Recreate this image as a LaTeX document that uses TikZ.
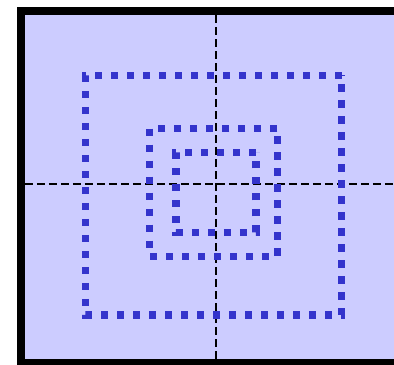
\documentclass[tikz,border=0pt]{standalone}
\usepackage{xcolor}
\usepackage{tikz}
\definecolor{panelfill}{HTML}{CCCCFF}
\definecolor{loopblue}{HTML}{3333CC}

\begin{document}
\begin{tikzpicture}[x=0.75pt, y=-0.75pt,
    loopline/.style={loopblue, line width=5.3pt, line cap=butt,
                     dash pattern=on 5.3pt off 6.7pt},
    axisline/.style={black, line width=1.5pt, dash pattern=on 6pt off 3pt}]
    \useasboundingbox (0,0) rectangle (394,365);
    \clip (0,0) rectangle (394,365);
    % frame
    \draw[line width=5.8pt, fill=panelfill] (21.2,11.2) rectangle (430,363);
    % axes
    \coordinate (top) at (216,15);
    \coordinate (bottom) at (216,359);
    \coordinate (left) at (25,183.7);
    \coordinate (right) at (394,183.7);
    \draw[axisline] (top) -- (bottom);
    \draw[axisline] (left) -- (right);
    % loops
    \draw[loopline] (341.7,75.3) -- (85.3,75.3) -- (85.3,315) -- (341.7,315) -- cycle;
    \draw[loopline] (277.3,128.3) -- (149.7,128.3) -- (149.7,256.3) -- (277.3,256.3) -- cycle;
    \draw[loopline] (256,152.3) -- (176,152.3) -- (176,232.3) -- (256,232.3) -- cycle;
\end{tikzpicture}
\end{document}
